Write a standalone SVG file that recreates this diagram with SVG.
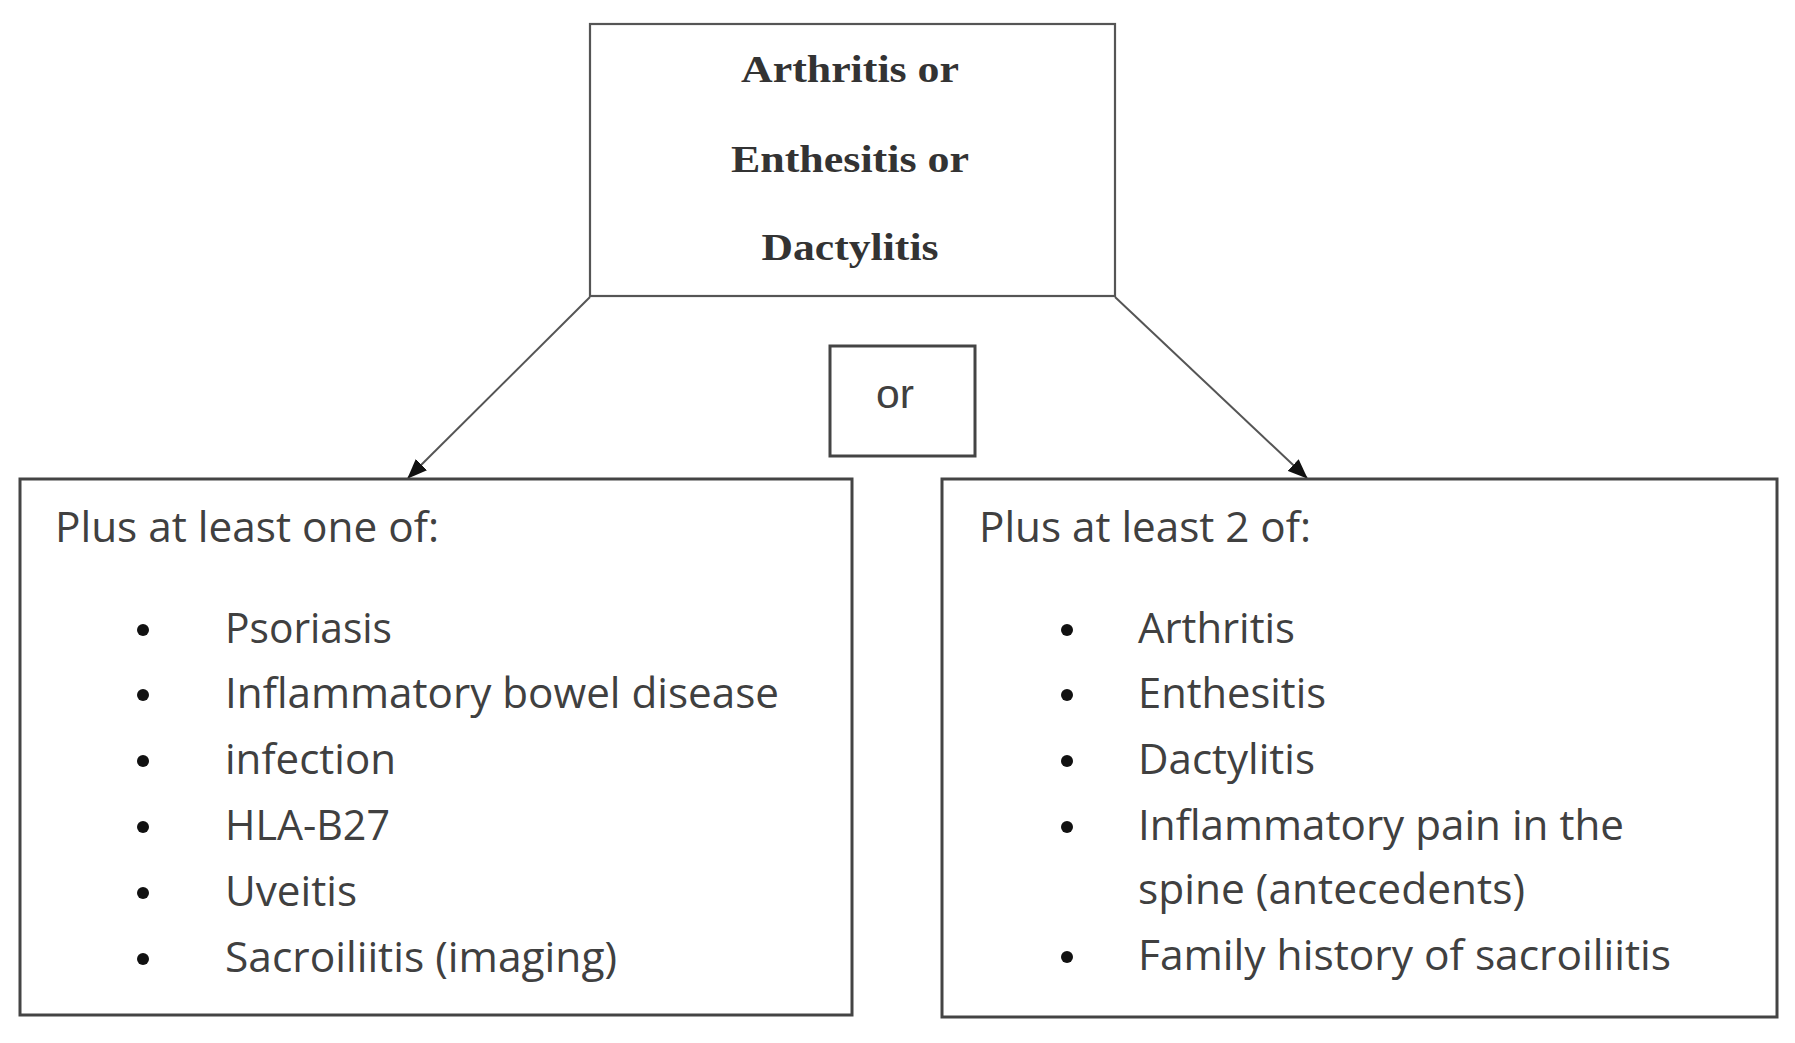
<svg xmlns="http://www.w3.org/2000/svg" width="1795" height="1043" viewBox="0 0 1795 1043">
<style>
.box{fill:#fff;stroke:#444;stroke-width:3}
.top{fill:#fff;stroke:#555;stroke-width:2.2}
.hd{font-family:"Liberation Serif","Times New Roman",serif;font-weight:bold;font-size:38px;fill:#333;text-anchor:middle}
.tx{font-family:"Open Sans","Noto Sans",sans-serif;font-size:42px;fill:#404040}
.bul{fill:#111}
.conn{stroke:#555;stroke-width:2;fill:none}
</style>
<defs>
<marker id="arr" viewBox="0 0 20 16" refX="19" refY="8" markerWidth="20" markerHeight="16" markerUnits="userSpaceOnUse" orient="auto">
<path d="M0,0 L20,8 L0,16 z" fill="#111"/>
</marker>
</defs>
<rect width="1795" height="1043" fill="#fff"/>
<g id="connectors">
<line class="conn" x1="590" y1="297" x2="408" y2="478" marker-end="url(#arr)"/>
<line class="conn" x1="1115" y1="297" x2="1307" y2="478" marker-end="url(#arr)"/>
</g>
<g id="node-top">
<rect class="top" x="590" y="24" width="525" height="272"/>
<text class="hd" x="850" y="82" textLength="218" lengthAdjust="spacingAndGlyphs">Arthritis or</text>
<text class="hd" x="850" y="172" textLength="238" lengthAdjust="spacingAndGlyphs">Enthesitis or</text>
<text class="hd" x="850" y="260" textLength="177" lengthAdjust="spacingAndGlyphs">Dactylitis</text>
</g>
<g id="node-or">
<rect class="box" x="830" y="346" width="145" height="110"/>
<text x="876" y="408" textLength="38" lengthAdjust="spacingAndGlyphs" style="font-family:'Liberation Sans',Arial,sans-serif;font-size:41px;fill:#404040">or</text>
</g>
<g id="node-left">
<rect class="box" x="20" y="479" width="832" height="536"/>
<text class="tx" x="55" y="542" textLength="384" lengthAdjust="spacingAndGlyphs">Plus at least one of:</text>
<circle class="bul" cx="143" cy="630" r="6"/>
<text class="tx" x="225" y="643" textLength="167" lengthAdjust="spacingAndGlyphs">Psoriasis</text>
<circle class="bul" cx="143" cy="695" r="6"/>
<text class="tx" x="225" y="708" textLength="554" lengthAdjust="spacingAndGlyphs">Inflammatory bowel disease</text>
<circle class="bul" cx="143" cy="761" r="6"/>
<text class="tx" x="225" y="774" textLength="171" lengthAdjust="spacingAndGlyphs">infection</text>
<circle class="bul" cx="143" cy="827" r="6"/>
<text class="tx" x="225" y="840" textLength="165" lengthAdjust="spacingAndGlyphs">HLA-B27</text>
<circle class="bul" cx="143" cy="893" r="6"/>
<text class="tx" x="225" y="906" textLength="132" lengthAdjust="spacingAndGlyphs">Uveitis</text>
<circle class="bul" cx="143" cy="959" r="6"/>
<text class="tx" x="225" y="972" textLength="392" lengthAdjust="spacingAndGlyphs">Sacroiliitis (imaging)</text>
</g>
<g id="node-right">
<rect class="box" x="942" y="479" width="835" height="538"/>
<text class="tx" x="979" y="542" textLength="332" lengthAdjust="spacingAndGlyphs">Plus at least 2 of:</text>
<circle class="bul" cx="1067" cy="630" r="6"/>
<text class="tx" x="1138" y="643" textLength="157" lengthAdjust="spacingAndGlyphs">Arthritis</text>
<circle class="bul" cx="1067" cy="695" r="6"/>
<text class="tx" x="1138" y="708" textLength="188" lengthAdjust="spacingAndGlyphs">Enthesitis</text>
<circle class="bul" cx="1067" cy="761" r="6"/>
<text class="tx" x="1138" y="774" textLength="177" lengthAdjust="spacingAndGlyphs">Dactylitis</text>
<circle class="bul" cx="1067" cy="827" r="6"/>
<text class="tx" x="1138" y="840" textLength="486" lengthAdjust="spacingAndGlyphs">Inflammatory pain in the</text>
<text class="tx" x="1138" y="904" textLength="387" lengthAdjust="spacingAndGlyphs">spine (antecedents)</text>
<circle class="bul" cx="1067" cy="957" r="6"/>
<text class="tx" x="1138" y="970" textLength="533" lengthAdjust="spacingAndGlyphs">Family history of sacroiliitis</text>
</g>
</svg>
